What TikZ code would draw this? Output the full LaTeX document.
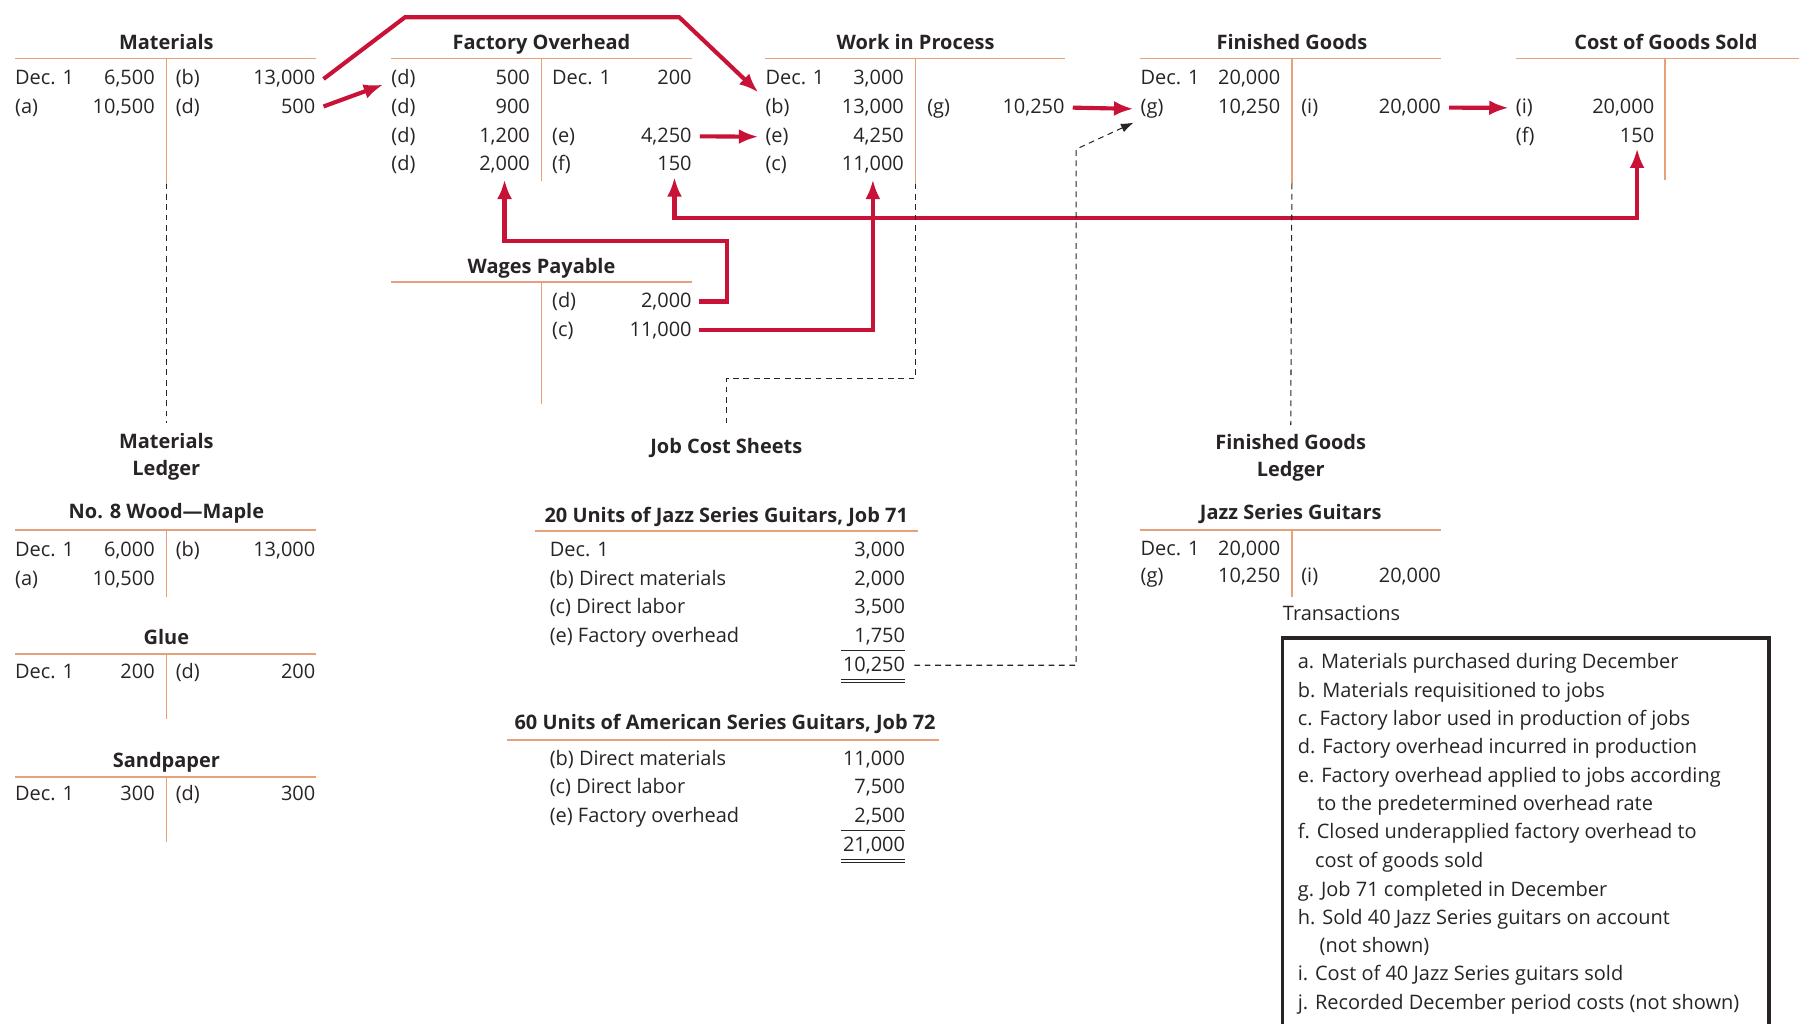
\documentclass[tikz,border=0pt]{standalone}
\usepackage{fontspec}
\setmainfont{Open Sans}
\usetikzlibrary{arrows.meta}
\definecolor{tline}{RGB}{230,160,122}
\definecolor{flowred}{RGB}{200,18,56}
\definecolor{ink}{RGB}{40,36,37}

\begin{document}
\begin{tikzpicture}[x=1pt,y=-1pt,
    every node/.style={inner sep=0pt,text=ink,font=\fontsize{17.4}{23}\selectfont},
    lbl/.style={anchor=base west},
    num/.style={anchor=base east},
    ttl/.style={anchor=base,font=\fontsize{17.4}{23}\selectfont\bfseries},
    ledger/.style={align=center,font=\fontsize{17.4}{23}\selectfont\bfseries},
    tacc/.style={draw=tline,line width=1.4pt},
    flow/.style={draw=flowred,line width=3.6pt,-{Latex[length=17pt,width=13pt]}},
    guide/.style={draw=ink,line width=0.9pt,dash pattern=on 5pt off 4pt},
    total/.style={draw=ink,line width=0.9pt}]
    \useasboundingbox (0,0) rectangle (1568,892);

    % Materials
    \node[ttl] (mat) at (145,43) {Materials};
    \draw[tacc] (13,51) -- (275,51) (145,51) -- (145,160);
    \node[lbl] (mat-ol) at (13,74) {Dec. 1};
    \node[num] (mat-ov) at (135,74) {6,500};
    \node[lbl] (mat-bl) at (153,74) {(b)};
    \node[num] (mat-bv) at (275,74) {13,000};
    \node[lbl] (mat-al) at (13,99) {(a)};
    \node[num] (mat-av) at (135,99) {10,500};
    \node[lbl] (mat-dl) at (153,99) {(d)};
    \node[num] (mat-dv) at (275,99) {500};

    % Factory Overhead
    \node[ttl] (fo) at (472,43) {Factory Overhead};
    \draw[tacc] (341,51) -- (603,51) (472,51) -- (472,158);
    \node[lbl] (fo-d1l) at (341,74) {(d)};
    \node[num] (fo-d1v) at (462,74) {500};
    \node[lbl] (fo-d2l) at (341,99) {(d)};
    \node[num] (fo-d2v) at (462,99) {900};
    \node[lbl] (fo-d3l) at (341,124) {(d)};
    \node[num] (fo-d3v) at (462,124) {1,200};
    \node[lbl] (fo-d4l) at (341,149) {(d)};
    \node[num] (fo-d4v) at (462,149) {2,000};
    \node[lbl] (fo-ol) at (481,74) {Dec. 1};
    \node[num] (fo-ov) at (603,74) {200};
    \node[lbl] (fo-el) at (481,124) {(e)};
    \node[num] (fo-ev) at (603,124) {4,250};
    \node[lbl] (fo-fl) at (481,149) {(f)};
    \node[num] (fo-fv) at (603,149) {150};

    % Work in Process
    \node[ttl] (wip) at (798,43) {Work in Process};
    \draw[tacc] (667,51) -- (928,51) (798,51) -- (798,160);
    \node[lbl] (wip-ol) at (667,74) {Dec. 1};
    \node[num] (wip-ov) at (788,74) {3,000};
    \node[lbl] (wip-bl) at (667,99) {(b)};
    \node[num] (wip-bv) at (788,99) {13,000};
    \node[lbl] (wip-el) at (667,124) {(e)};
    \node[num] (wip-ev) at (788,124) {4,250};
    \node[lbl] (wip-cl) at (667,149) {(c)};
    \node[num] (wip-cv) at (788,149) {11,000};
    \node[lbl] (wip-gl) at (808,99) {(g)};
    \node[num] (wip-gv) at (928,99) {10,250};

    % Finished Goods
    \node[ttl] (fg) at (1126,43) {Finished Goods};
    \draw[tacc] (994,51) -- (1256,51) (1126,51) -- (1126,160);
    \node[lbl] (fg-ol) at (994,74) {Dec. 1};
    \node[num] (fg-ov) at (1116,74) {20,000};
    \node[lbl] (fg-gl) at (994,99) {(g)};
    \node[num] (fg-gv) at (1116,99) {10,250};
    \node[lbl] (fg-il) at (1134,99) {(i)};
    \node[num] (fg-iv) at (1256,99) {20,000};

    % Cost of Goods Sold
    \node[ttl] (cogs) at (1452,43) {Cost of Goods Sold};
    \draw[tacc] (1321,51) -- (1568,51) (1451,51) -- (1451,157);
    \node[lbl] (cogs-il) at (1321,99) {(i)};
    \node[num] (cogs-iv) at (1442,99) {20,000};
    \node[lbl] (cogs-fl) at (1321,124) {(f)};
    \node[num] (cogs-fv) at (1442,124) {150};

    % Wages Payable
    \node[ttl] (wp) at (472,238) {Wages Payable};
    \draw[tacc] (341,246) -- (603,246) (472,246) -- (472,352);
    \node[lbl] (wp-dl) at (481,268) {(d)};
    \node[num] (wp-dv) at (603,268) {2,000};
    \node[lbl] (wp-cl) at (481,293) {(c)};
    \node[num] (wp-cv) at (603,293) {11,000};

    % red flows
    \draw[flow] ([xshift=7pt]mat-bv.east) -- (353,15) -- (592,15) -- ([xshift=-6pt,yshift=5pt]wip-bl.north west);
    \draw[flow] ([xshift=7pt]mat-dv.east) -- ([xshift=-7pt,yshift=-5pt]fo-d1l.west);
    \draw[flow] ([xshift=7pt]fo-ev.east) -- ([xshift=-6pt]wip-el.west);
    \draw[flow] ([xshift=7pt]wip-gv.east) -- ([xshift=-6pt]fg-gl.west);
    \draw[flow] ([xshift=7pt]fg-iv.east) -- ([xshift=-6pt]cogs-il.west);
    \draw[flow] ([xshift=6pt]wp-dv.east) -| (634,210) -| ([yshift=-5pt]fo-d4v.south);
    \draw[flow] ([xshift=6pt]wp-cv.east) -| ([yshift=-5pt]wip-cv.south);
    \draw[flow,{Latex[length=17pt,width=13pt]}-{Latex[length=17pt,width=13pt]}]
        ([yshift=-5pt]fo-fv.south) -- (fo-fv.south |- 0,190) -| ([yshift=-5pt]cogs-fv.south);

    % subsidiary ledgers
    \node[ledger] (matled) at (145,398) {Materials\\Ledger};
    \node[ttl] (jcs) at (633,395) {Job Cost Sheets};
    \node[ledger] (fgled) at (1125,399) {Finished Goods\\Ledger};
    \draw[guide] (145,160) -- ([yshift=9pt]matled.north);
    \draw[guide] (798,160) -- (798,330) -| ([yshift=10pt]jcs.north);
    \draw[guide] (1126,160) -- ([yshift=8pt]fgled.north);

    % No. 8 Wood--Maple
    \node[ttl] (maple) at (145,452) {No. 8 Wood—Maple};
    \draw[tacc] (13,462) -- (275,462) (145,462) -- (145,520);
    \node[lbl] (maple-ol) at (13,485) {Dec. 1};
    \node[num] (maple-ov) at (135,485) {6,000};
    \node[lbl] (maple-bl) at (153,485) {(b)};
    \node[num] (maple-bv) at (275,485) {13,000};
    \node[lbl] (maple-al) at (13,510) {(a)};
    \node[num] (maple-av) at (135,510) {10,500};

    % Glue
    \node[ttl] (glue) at (145,562) {Glue};
    \draw[tacc] (13,570) -- (275,570) (145,570) -- (145,627);
    \node[lbl] (glue-ol) at (13,591) {Dec. 1};
    \node[num] (glue-ov) at (135,591) {200};
    \node[lbl] (glue-dl) at (153,591) {(d)};
    \node[num] (glue-dv) at (275,591) {200};

    % Sandpaper
    \node[ttl] (sand) at (145,669) {Sandpaper};
    \draw[tacc] (13,677) -- (275,677) (145,677) -- (145,734);
    \node[lbl] (sand-ol) at (13,698) {Dec. 1};
    \node[num] (sand-ov) at (135,698) {300};
    \node[lbl] (sand-dl) at (153,698) {(d)};
    \node[num] (sand-dv) at (275,698) {300};

    % Job 71
    \node[ttl] (job71) at (633,455) {20 Units of Jazz Series Guitars, Job 71};
    \draw[tacc] (466,463) -- (800,463);
    \node[lbl] (j71-ol) at (479,485) {Dec. 1};
    \node[num] (j71-ov) at (789,485) {3,000};
    \node[lbl] (j71-bl) at (479,510) {(b) Direct materials};
    \node[num] (j71-bv) at (789,510) {2,000};
    \node[lbl] (j71-cl) at (479,535) {(c) Direct labor};
    \node[num] (j71-cv) at (789,535) {3,500};
    \node[lbl] (j71-el) at (479,560) {(e) Factory overhead};
    \node[num] (j71-ev) at (789,560) {1,750};
    \node[num] (j71-tot) at (789,585) {10,250};
    \draw[total] (733,567) -- (789,567) (733,592) -- (789,592) (733,595) -- (789,595);
    \draw[guide,-{Latex[length=11pt,width=8pt]}] ([xshift=8pt]j71-tot.east) -| (938,130) -- ([xshift=-6pt,yshift=-12pt]fg-gl.west);

    % Job 72
    \node[ttl] (job72) at (632,636) {60 Units of American Series Guitars, Job 72};
    \draw[tacc] (442,645) -- (818,645);
    \node[lbl] (j72-bl) at (479,667) {(b) Direct materials};
    \node[num] (j72-bv) at (789,667) {11,000};
    \node[lbl] (j72-cl) at (479,692) {(c) Direct labor};
    \node[num] (j72-cv) at (789,692) {7,500};
    \node[lbl] (j72-el) at (479,717) {(e) Factory overhead};
    \node[num] (j72-ev) at (789,717) {2,500};
    \node[num] (j72-tot) at (789,742) {21,000};
    \draw[total] (733,724) -- (789,724) (733,749) -- (789,749) (733,752) -- (789,752);

    % Jazz Series Guitars
    \node[ttl] (jazz) at (1125,453) {Jazz Series Guitars};
    \draw[tacc] (994,462) -- (1256,462) (1126,462) -- (1126,520);
    \node[lbl] (jazz-ol) at (994,484) {Dec. 1};
    \node[num] (jazz-ov) at (1116,484) {20,000};
    \node[lbl] (jazz-gl) at (994,508) {(g)};
    \node[num] (jazz-gv) at (1116,508) {10,250};
    \node[lbl] (jazz-il) at (1134,508) {(i)};
    \node[num] (jazz-iv) at (1256,508) {20,000};

    % Transactions
    \node[lbl] (trans) at (1118,541) {Transactions};
    \draw[draw=ink,line width=3pt] (1118,556) rectangle (1542,905);
    \node[lbl] (tx-a) at (1131,583) {a. Materials purchased during December};
    \node[lbl] (tx-b) at (1131,608) {b. Materials requisitioned to jobs};
    \node[lbl] (tx-c) at (1131,632) {c. Factory labor used in production of jobs};
    \node[lbl] (tx-d) at (1131,657) {d. Factory overhead incurred in production};
    \node[lbl] (tx-e) at (1131,682) {e. Factory overhead applied to jobs according};
    \node[lbl] (tx-e2) at (1148,706) {to the predetermined overhead rate};
    \node[lbl] (tx-f) at (1131,731) {f. Closed underapplied factory overhead to};
    \node[lbl] (tx-f2) at (1146,756) {cost of goods sold};
    \node[lbl] (tx-g) at (1131,781) {g. Job 71 completed in December};
    \node[lbl] (tx-h) at (1131,806) {h. Sold 40 Jazz Series guitars on account};
    \node[lbl] (tx-h2) at (1150,830) {(not shown)};
    \node[lbl] (tx-i) at (1131,855) {i. Cost of 40 Jazz Series guitars sold};
    \node[lbl] (tx-j) at (1131,880) {j. Recorded December period costs (not shown)};
\end{tikzpicture}
\end{document}
